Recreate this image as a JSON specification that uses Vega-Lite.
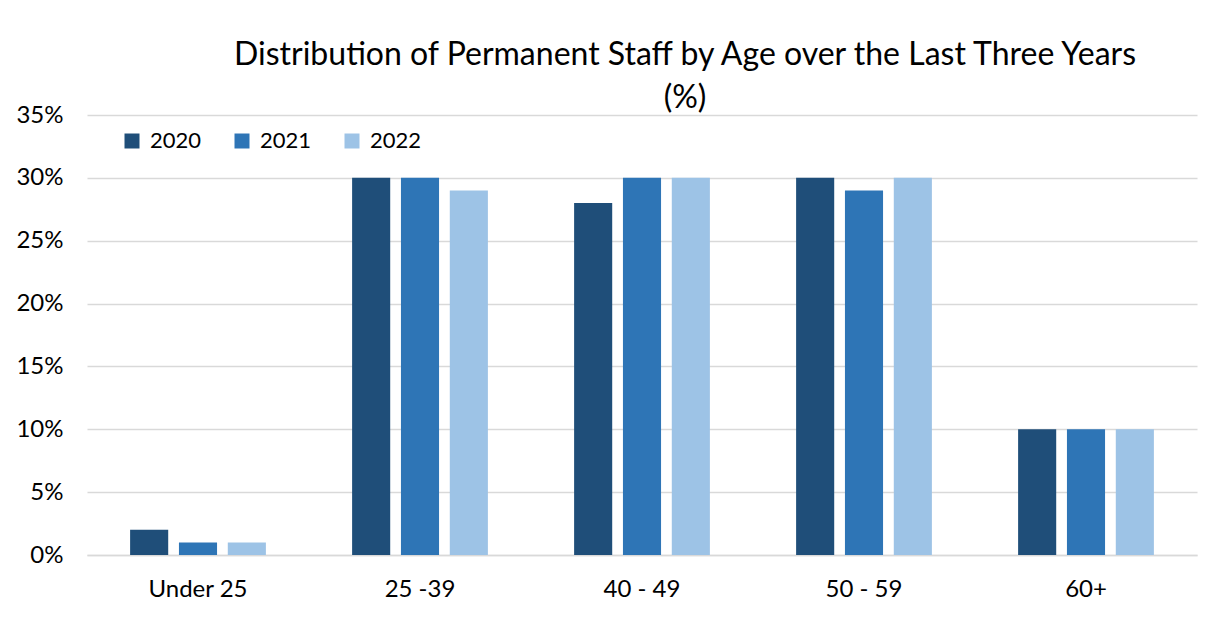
{
  "$schema": "https://vega.github.io/schema/vega-lite/v6.json",
  "width": 1110,
  "height": 440,
  "autosize": {"type": "none"},
  "padding": {"left": 87, "top": 115, "right": 15, "bottom": 77},
  "background": "white",
  "title": {
    "text": ["Distribution of Permanent Staff by Age over the Last Three Years", "(%)"],
    "font": "Lato",
    "fontSize": 32,
    "fontWeight": "normal",
    "color": "#000000",
    "anchor": "middle",
    "dx": 43,
    "offset": -12,
    "lineHeight": 43
  },
  "data": {
    "values": [
      {"age": "Under 25", "year": "2020", "pct": 2},
      {"age": "Under 25", "year": "2021", "pct": 1},
      {"age": "Under 25", "year": "2022", "pct": 1},
      {"age": "25 -39", "year": "2020", "pct": 30},
      {"age": "25 -39", "year": "2021", "pct": 30},
      {"age": "25 -39", "year": "2022", "pct": 29},
      {"age": "40 - 49", "year": "2020", "pct": 28},
      {"age": "40 - 49", "year": "2021", "pct": 30},
      {"age": "40 - 49", "year": "2022", "pct": 30},
      {"age": "50 - 59", "year": "2020", "pct": 30},
      {"age": "50 - 59", "year": "2021", "pct": 29},
      {"age": "50 - 59", "year": "2022", "pct": 30},
      {"age": "60+", "year": "2020", "pct": 10},
      {"age": "60+", "year": "2021", "pct": 10},
      {"age": "60+", "year": "2022", "pct": 10}
    ]
  },
  "mark": {"type": "bar"},
  "encoding": {
    "x": {
      "field": "age",
      "type": "nominal",
      "sort": null,
      "scale": {"paddingInner": 0.34, "paddingOuter": 0.17},
      "axis": {
        "title": null,
        "labelAngle": 0,
        "labelFont": "Lato",
        "labelFontSize": 24,
        "labelColor": "#000000",
        "labelPadding": 22,
        "ticks": false,
        "domain": true,
        "domainColor": "#D9D9D9",
        "domainWidth": 1.5,
        "grid": false
      }
    },
    "xOffset": {
      "field": "year",
      "type": "nominal",
      "scale": {"paddingInner": 0.22, "paddingOuter": 0.11}
    },
    "y": {
      "field": "pct",
      "type": "quantitative",
      "scale": {"domain": [0, 35]},
      "axis": {
        "title": null,
        "values": [0, 5, 10, 15, 20, 25, 30, 35],
        "labelExpr": "datum.value + '%'",
        "labelFont": "Lato",
        "labelFontSize": 24,
        "labelColor": "#000000",
        "labelPadding": 24,
        "ticks": false,
        "domain": false,
        "gridColor": "#D9D9D9",
        "gridWidth": 1.5
      }
    },
    "color": {
      "field": "year",
      "type": "nominal",
      "scale": {"domain": ["2020", "2021", "2022"], "range": ["#1F4E79", "#2E75B6", "#9DC3E6"]},
      "legend": {
        "title": null,
        "orient": "none",
        "legendX": 34,
        "legendY": 15,
        "direction": "horizontal",
        "symbolType": "square",
        "symbolSize": 225,
        "symbolStrokeWidth": 0,
        "labelFont": "Lato",
        "labelFontSize": 22,
        "labelColor": "#000000",
        "labelOffset": 7,
        "columnPadding": 29
      }
    }
  },
  "config": {
    "view": {"stroke": null}
  }
}
